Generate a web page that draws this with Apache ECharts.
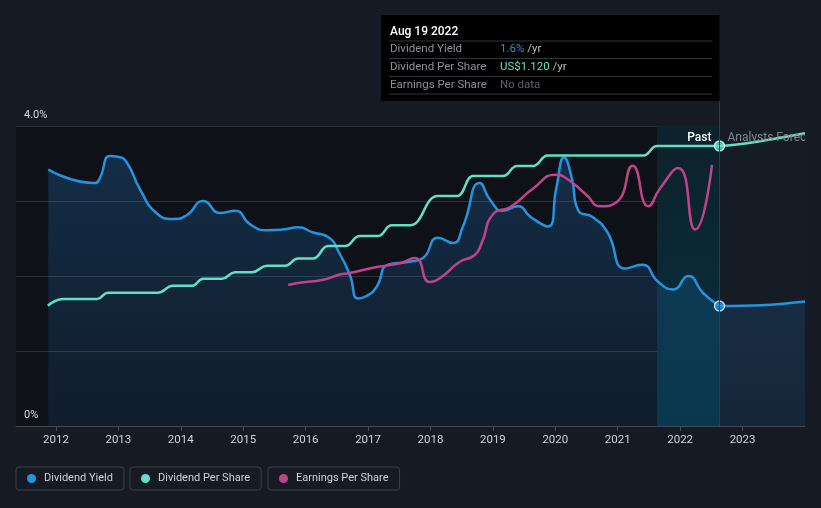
<!DOCTYPE html>
<html>
<head>
<meta charset="utf-8">
<script src="https://cdn.jsdelivr.net/npm/echarts@6/dist/echarts.min.js"></script>
<style>
html,body{margin:0;padding:0;background:#151a23;}
#c{width:821px;height:508px;}
</style>
</head>
<body>
<div id="c"></div>
<script>
// ---- data (x = decimal year) ----
const yearTicks = [2012,2013,2014,2015,2016,2017,2018,2019,2020,2021,2022,2023];
const yieldTicks = [0,4];
const currentYear = 2022.63;
const highlightStart = 2021.63;

const dividendYieldPast = [
 [2011.877,3.42],[2012.625,3.24],[2012.70,3.30],[2012.865,3.60],[2012.99,3.59],[2013.13,3.52],
 [2013.35,3.15],[2013.61,2.84],[2013.875,2.76],[2014.095,2.81],[2014.36,3.00],[2014.63,2.84],
 [2014.87,2.87],[2015.11,2.69],[2015.38,2.61],[2015.64,2.62],[2015.88,2.65],[2016.12,2.58],
 [2016.36,2.52],[2016.55,2.29],[2016.71,2.01],[2016.84,1.70],[2016.97,1.73],[2017.14,1.86],
 [2017.32,2.15],[2017.67,2.19],[2017.88,2.24],[2018.12,2.51],[2018.36,2.44],[2018.52,2.66],
 [2018.79,3.24],[2018.96,3.01],[2019.16,2.87],[2019.40,2.93],[2019.60,2.79],[2019.88,2.66],
 [2020.02,3.19],[2020.14,3.58],[2020.26,3.32],[2020.37,2.87],[2020.59,2.79],[2020.83,2.59],
 [2021.12,2.10],[2021.39,2.15],[2021.65,1.92],[2021.89,1.82],[2022.13,2.00],[2022.37,1.77],
 [2022.63,1.60]
];
const dividendYieldForecast = [[2022.63,1.60],[2023.3,1.61],[2024.0,1.66]];

const dpsPast = [
 [2011.87,0.481],[2012.11,0.508],[2012.66,0.508],[2012.83,0.533],[2013.63,0.533],[2013.875,0.561],
 [2014.18,0.561],[2014.36,0.589],[2014.66,0.589],[2014.87,0.615],[2015.14,0.615],[2015.38,0.641],
 [2015.67,0.641],[2015.88,0.670],[2016.12,0.670],[2016.36,0.720],[2016.63,0.720],[2016.87,0.760],
 [2017.16,0.760],[2017.38,0.803],[2017.67,0.803],[2018.12,0.920],[2018.43,0.920],[2018.68,1.000],
 [2019.16,1.000],[2019.39,1.040],[2019.64,1.040],[2019.88,1.082],[2021.41,1.082],[2021.63,1.120],
 [2022.63,1.120]
];
const dpsForecast = [[2022.63,1.120],[2023.07,1.131],[2024.0,1.171]];

const epsPast = [
 [2015.72,1.88],[2015.91,1.91],[2016.28,1.95],[2016.55,2.02],[2016.71,2.04],[2017.14,2.12],
 [2017.51,2.17],[2017.75,2.24],[2017.99,1.92],[2018.15,1.97],[2018.47,2.19],[2018.71,2.28],
 [2018.82,2.44],[2019.01,2.83],[2019.28,2.92],[2019.65,3.17],[2020.00,3.35],[2020.18,3.30],
 [2020.50,3.08],[2020.72,2.93],[2020.99,2.99],[2021.24,3.47],[2021.49,2.93],[2021.68,3.17],
 [2021.97,3.44],[2022.24,2.62],[2022.51,3.48]
];

// ---- colours ----
const C_YIELD = '#2394df', C_DPS = '#5fe0c8', C_EPS = '#c2438a';
const FONT = 'Roboto';

const chart = echarts.init(document.getElementById('c'), null, {renderer:'canvas'});

const legendBase = {
  orient:'horizontal', top:467, icon:'circle', itemWidth:9, itemHeight:9,
  borderColor:'#3a404a', borderWidth:1, borderRadius:3, padding:[6,11,6,11],
  selectedMode:false,
  textStyle:{color:'#d0d3d8', fontSize:11, fontFamily:FONT, padding:[0,0,0,3]}
};

const lastYield = dividendYieldPast[dividendYieldPast.length-1];
const lastDps = dpsPast[dpsPast.length-1];
const xMin = 2011.36, xMax = 2024.0;

chart.setOption({
  backgroundColor:'#151a23',
  animation:false,
  textStyle:{fontFamily:FONT},
  grid:{left:16, right:16, top:126, bottom:82, show:true, backgroundColor:'#0e1117', borderWidth:0},
  legend:[
    Object.assign({}, legendBase, {left:16, data:['Dividend Yield']}),
    Object.assign({}, legendBase, {left:130, data:['Dividend Per Share']}),
    Object.assign({}, legendBase, {left:268, data:['Earnings Per Share']})
  ],
  xAxis:{
    type:'value', min:xMin, max:xMax,
    axisLine:{lineStyle:{color:'#444a53', width:1}},
    axisTick:{show:true, customValues:yearTicks, length:5, lineStyle:{color:'#444a53'}},
    axisLabel:{customValues:yearTicks, formatter:v=>String(Math.round(v)), color:'#d0d3d8', fontSize:11.5, margin:8, fontFamily:FONT},
    splitLine:{show:false}
  },
  yAxis:[
    {type:'value', min:0, max:4, interval:1,
     axisLine:{show:false}, axisTick:{show:false},
     splitLine:{lineStyle:{color:'#2c3139', width:1}},
     axisLabel:{inside:true, customValues:yieldTicks, formatter:v=> v===0?'0%':v.toFixed(1)+'%',
       color:'#d8dadd', fontSize:11, margin:8, verticalAlign:'bottom', padding:[0,0,5,0], fontFamily:FONT}},
    {type:'value', min:0, max:1.2, show:false},
    {type:'value', min:0, max:4, show:false}
  ],
  series:[
    {name:'bands', type:'line', data:[], z:1, silent:true,
     markArea:{silent:true, data:[
       [{xAxis:currentYear, itemStyle:{color:'#151c26'}},{xAxis:xMax}],
       [{xAxis:highlightStart, itemStyle:{color:{type:'linear',x:0,y:0,x2:0,y2:1,colorStops:[
          {offset:0,color:'#0d222b'},{offset:1,color:'#05303f'}]}}},{xAxis:currentYear}]
     ]}},
    {name:'yieldArea', type:'line', data:dividendYieldPast.concat(dividendYieldForecast.slice(1)),
     smooth:0.55, symbol:'none', z:2, lineStyle:{width:0},
     areaStyle:{color:{type:'linear',x:0,y:0,x2:0,y2:1,colorStops:[
       {offset:0,color:'rgba(35,120,200,0.38)'},{offset:1,color:'rgba(35,120,200,0.16)'}]}}},
    {name:'Dividend Yield', type:'line', data:dividendYieldPast, smooth:0.55,
     symbol:'none', z:3, color:C_YIELD, lineStyle:{width:2.5, color:C_YIELD}},
    {name:'Dividend Yield', type:'line', data:dividendYieldForecast, smooth:0.4,
     symbol:'none', z:3, color:C_YIELD, lineStyle:{width:2.5, color:C_YIELD}},
    {name:'Dividend Per Share', type:'line', yAxisIndex:1, data:dpsPast, smooth:0.5, smoothMonotone:'x',
     symbol:'none', z:3, color:C_DPS, lineStyle:{width:2.5, color:C_DPS}},
    {name:'Dividend Per Share', type:'line', yAxisIndex:1, data:dpsForecast, smooth:0.4,
     symbol:'none', z:3, color:C_DPS, lineStyle:{width:2.5, color:C_DPS}},
    {name:'Earnings Per Share', type:'line', yAxisIndex:2, data:epsPast, smooth:0.55,
     symbol:'none', z:3, color:C_EPS, lineStyle:{width:2.5, color:C_EPS}},
    {name:'markers', type:'scatter', yAxisIndex:0, z:5, symbolSize:10,
     data:[{value:lastYield, itemStyle:{color:C_YIELD, borderColor:'#e8f4ff', borderWidth:1.5}}]},
    {name:'markersDps', type:'scatter', yAxisIndex:1, z:5, symbolSize:10,
     data:[{value:lastDps, itemStyle:{color:C_DPS, borderColor:'#e8fffa', borderWidth:1.5}}]}
  ]
});

// decorations positioned through the chart's scales
const px = chart.convertToPixel({xAxisIndex:0}, currentYear);
const topY = chart.convertToPixel({yAxisIndex:0}, 4);
const botY = chart.convertToPixel({yAxisIndex:0}, 0);
const rightX = chart.convertToPixel({xAxisIndex:0}, xMax);

const tipX = 381, tipY = 15, tipW = px - tipX, tipH = 86;
const rowLine = (y)=>({type:'line', shape:{x1:tipX+8, y1:y, x2:tipX+tipW-7, y2:y}, style:{stroke:'#333639', lineWidth:1}});
const labelStyle = {fill:'#8d9199', fontSize:11.5, fontFamily:FONT, verticalAlign:'middle'};
const richVals = {fill:'#b9bcc2', fontSize:11.5, fontFamily:FONT};

chart.setOption({
  graphic:[
    {type:'line', z:10, shape:{x1:px, y1:tipY+tipH, x2:px, y2:botY}, style:{stroke:'#17485a', lineWidth:1}},
    {type:'text', z:10, x:px-8, y:topY+12, style:{text:'Past', fill:'#ffffff', fontSize:12, fontWeight:500, fontFamily:FONT, align:'right', verticalAlign:'middle'}},
    {type:'text', z:10, x:px+8, y:topY+12, style:{text:'Analysts Forecast', fill:'#80858e', fontSize:12, fontFamily:FONT, align:'left', verticalAlign:'middle'}},
    {type:'rect', z:11, shape:{x:rightX, y:topY, width:821-rightX, height:botY-topY}, style:{fill:'#151a23'}},
    {type:'rect', z:20, shape:{x:tipX, y:tipY, width:tipW, height:tipH}, style:{fill:'#000000'}},
    {type:'text', z:21, x:tipX+9, y:tipY+17, style:{text:'Aug 19 2022', fill:'#ffffff', fontSize:12, fontWeight:500, fontFamily:FONT, verticalAlign:'middle'}},
    Object.assign(rowLine(tipY+26), {z:21}),
    {type:'text', z:21, x:tipX+9, y:tipY+34.5, style:Object.assign({text:'Dividend Yield'}, labelStyle)},
    {type:'text', z:21, x:tipX+119, y:tipY+34.5, style:{text:'{a|1.6%}{b| /yr}', fontFamily:FONT, verticalAlign:'middle',
      rich:{a:{fill:C_YIELD, fontSize:11.5, fontFamily:FONT}, b:richVals}}},
    Object.assign(rowLine(tipY+43.5), {z:21}),
    {type:'text', z:21, x:tipX+9, y:tipY+52, style:Object.assign({text:'Dividend Per Share'}, labelStyle)},
    {type:'text', z:21, x:tipX+119, y:tipY+52, style:{text:'{a|US$1.120}{b| /yr}', fontFamily:FONT, verticalAlign:'middle',
      rich:{a:{fill:C_DPS, fontSize:11.5, fontFamily:FONT}, b:richVals}}},
    Object.assign(rowLine(tipY+61.5), {z:21}),
    {type:'text', z:21, x:tipX+9, y:tipY+70, style:Object.assign({text:'Earnings Per Share'}, labelStyle)},
    {type:'text', z:21, x:tipX+119, y:tipY+70, style:{text:'No data', fill:'#5d6168', fontSize:11.5, fontFamily:FONT, verticalAlign:'middle'}},
    Object.assign(rowLine(tipY+79), {z:21})
  ]
});
</script>
</body>
</html>
